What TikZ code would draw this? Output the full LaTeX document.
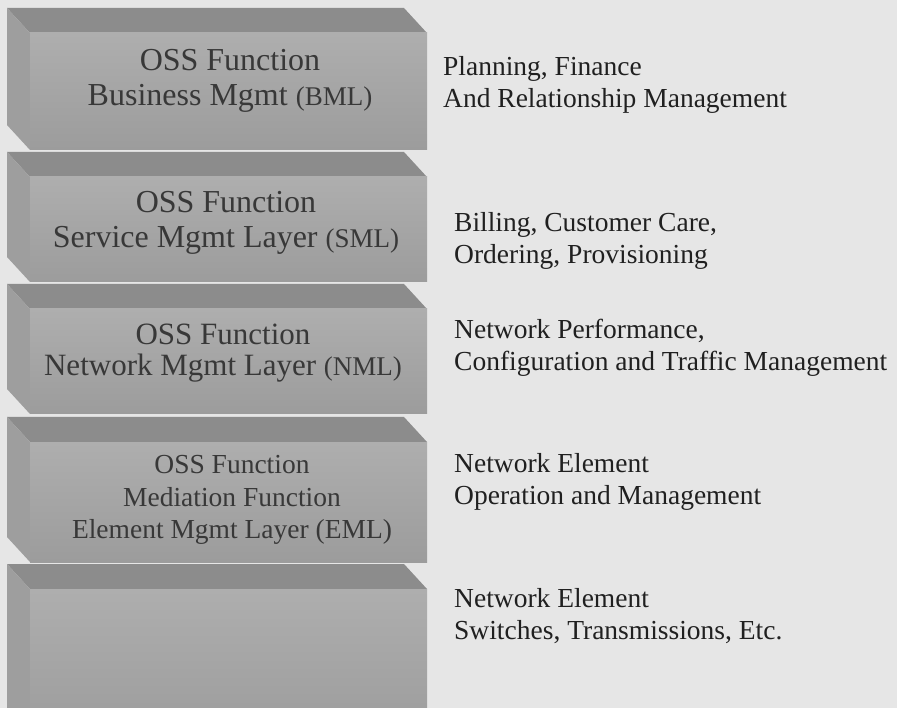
\documentclass[tikz,border=0pt]{standalone}
\usepackage{fontspec}
\setmainfont{Liberation Serif}
\usepackage{tikz}
\definecolor{paper}{HTML}{E6E6E6}
\definecolor{slabtop}{HTML}{8C8C8C}
\definecolor{slabside}{HTML}{9E9E9E}
\definecolor{slablight}{HTML}{AEAEAE}
\definecolor{slabdark}{HTML}{9C9C9C}
\definecolor{ink}{HTML}{202020}
\definecolor{boxink}{HTML}{383838}
\newcommand\abbr[1]{{\fontsize{27}{35}\selectfont #1}}
\tikzset{
	% one 3D slab: #1 = top of back edge, #2 = bottom of front face
	pics/slab/.style 2 args={
			code={
					\fill[slabtop]  (7,#1) -- (404,#1) -- (427,#1+25) -- (30,#1+25) -- cycle;
					\fill[slabside] (7,#1) -- (30,#1+25) -- (30,#2) -- (7,#2-25) -- cycle;
					\shade[top color=slablight, bottom color=slabdark] (30,#1+25) rectangle (427,#2);
				}
		}
}

\begin{document}
\begin{tikzpicture}[x=1pt, y=-1pt,
        box/.style = {align=center, inner sep=0pt, text=boxink,
                      font=\fontsize{32}{35}\selectfont},
      small/.style = {box, font=\fontsize{27.5}{32.5}\selectfont},
       note/.style = {align=left, anchor=west, inner sep=0pt, text=ink,
                      font=\fontsize{27.5}{32}\selectfont}
                    ]
\clip (0,0) rectangle (897,708);
\fill[paper] (0,0) rectangle (897,708);

% the stack of layers
\pic {slab={8}{150}};
\pic {slab={152}{282}};
\pic {slab={284}{414}};
\pic {slab={417}{562}};
\pic {slab={564}{740}};

\node (bml) [box] at (230,81)  {OSS Function\\Business Mgmt \abbr{(BML)}};
\node (sml) [box] at (226,223) {OSS Function\\Service Mgmt Layer \abbr{(SML)}};
\node (nml) [box, font=\fontsize{31}{31}\selectfont] at (223,353)
            {OSS Function\\Network Mgmt Layer \abbr{(NML)}};
\node (eml) [small] at (232,500) {OSS Function\\Mediation Function\\Element Mgmt Layer (EML)};

% what each layer covers
\node (bml-note) [note] at (443,85)  {Planning, Finance\\And Relationship Management};
\node (sml-note) [note] at (454,241) {Billing, Customer Care,\\Ordering, Provisioning};
\node (nml-note) [note] at (454,348) {Network Performance,\\Configuration and Traffic Management};
\node (eml-note) [note] at (454,482) {Network Element\\Operation and Management};
\node (ne-note)  [note] at (454,616) {Network Element\\Switches, Transmissions, Etc.};
\end{tikzpicture}
\end{document}
